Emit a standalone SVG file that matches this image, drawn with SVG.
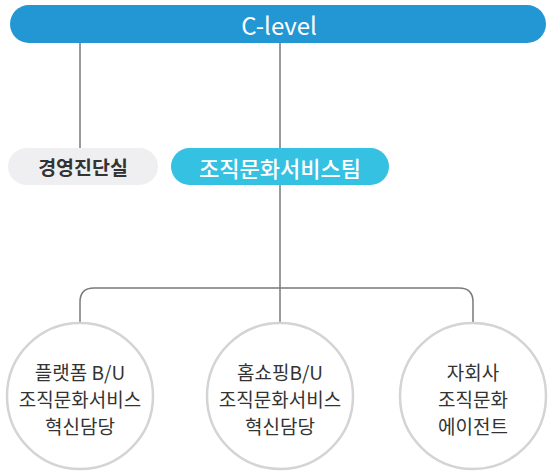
<svg xmlns="http://www.w3.org/2000/svg" width="548" height="471" viewBox="0 0 548 471">
<style>
text{font-family:"Noto Sans CJK KR","Noto Sans",sans-serif;text-anchor:middle;dominant-baseline:central}
.ln{fill:none;stroke:#7a7a7a;stroke-width:1.5}
.c{fill:#fff;stroke:#d4d4d4;stroke-width:2.5}
.ct{font-size:19px;fill:#333}
</style>
<rect width="548" height="471" fill="#fff"/>
<g id="connectors">
<line class="ln" x1="80" y1="43" x2="80" y2="149"/>
<line class="ln" x1="280" y1="43" x2="280" y2="149"/>
<line class="ln" x1="280" y1="184" x2="280" y2="324"/>
<path class="ln" d="M80,324 V302 Q80,288 94,288 H459 Q473,288 473,302 V324"/>
</g>
<g id="clevel">
<rect x="10" y="5" width="536" height="38" rx="19" fill="#2397d3"/>
<text x="279" y="24" font-size="24" fill="#fff">C-level</text>
</g>
<g id="mgmt">
<rect x="8" y="148" width="150" height="37" rx="18.5" fill="#efeff1"/>
<text x="83" y="166.5" font-size="19.5" font-weight="bold" fill="#333">경영진단실</text>
</g>
<g id="team">
<rect x="171" y="148" width="218" height="37" rx="18.5" fill="#35c1e1"/>
<text x="280" y="166.5" font-size="22" font-weight="500" fill="#fff">조직문화서비스팀</text>
</g>
<g id="n1">
<circle class="c" cx="80" cy="396" r="73"/>
<text class="ct" x="80" y="371">플랫폼 B/U</text>
<text class="ct" x="80" y="398">조직문화서비스</text>
<text class="ct" x="80" y="425">혁신담당</text>
</g>
<g id="n2">
<circle class="c" cx="280" cy="396" r="73"/>
<text class="ct" x="280" y="371">홈쇼핑B/U</text>
<text class="ct" x="280" y="398">조직문화서비스</text>
<text class="ct" x="280" y="425">혁신담당</text>
</g>
<g id="n3">
<circle class="c" cx="473" cy="396" r="73"/>
<text class="ct" x="473" y="371">자회사</text>
<text class="ct" x="473" y="398">조직문화</text>
<text class="ct" x="473" y="425">에이전트</text>
</g>
</svg>
